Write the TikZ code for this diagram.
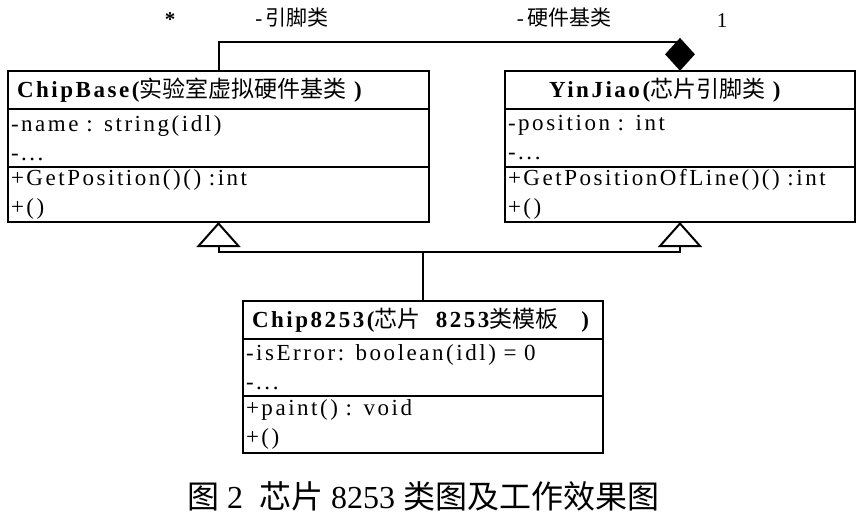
\documentclass[tikz,border=0pt]{standalone}
\usepackage{fontspec}
\setmainfont{Liberation Serif}
\newfontfamily\spaced[LetterSpace=11]{Liberation Serif}
\newfontfamily\cjk{Noto Sans CJK SC}
\usetikzlibrary{positioning,shapes.geometric,arrows.meta}

\tikzset{
	box/.style={draw,line width=2.4pt,outer sep=0pt,inner ysep=0pt},
	hdr/.style={box,minimum height=38pt,inner xsep=9pt,font=\spaced\fontsize{23}{27}\selectfont\bfseries},
	sect/.style={box,inner xsep=3pt,align=left,font=\spaced\fontsize{23}{29}\selectfont},
	link/.style={line width=2pt},
	gen/.style={link,-{Triangle[open,width=44pt,length=25pt]}},
	dia/.style={diamond,fill=black,inner sep=0pt,minimum width=30pt,minimum height=33pt},
	lbl/.style={font=\fontsize{21}{24}\selectfont}
}

\begin{document}
\begin{tikzpicture}[x=1pt,y=-1pt]
		\useasboundingbox[fill=white] (0,0) rectangle (864,520);
		\node[hdr,text width=403pt,align=left,anchor=north west] (cb) at (8,71) {ChipBase({\cjk\mdseries 实验室虚拟硬件基类} )};
		\node[sect,text width=415pt,minimum height=58pt,below=0pt of cb] (cbattr) {-name : string(idl)\\-...};
		\node[sect,text width=415pt,minimum height=55pt,below=0pt of cbattr] (cbops) {+GetPosition()() :int\\+()};
		\node[hdr,text width=332pt,align=left,anchor=north west] (yj) at (505,71) {\hspace*{35pt}YinJiao({\cjk\mdseries 芯片引脚类} )};
		\node[sect,text width=344pt,minimum height=58pt,below=0pt of yj] (yjattr) {-position : int\\-...};
		\node[sect,text width=344pt,minimum height=55pt,below=0pt of yjattr] (yjops) {+GetPositionOfLine()() :int\\+()};
		\node[hdr,text width=342pt,align=left,anchor=north west] (ch) at (243,301) {Chip8253({\cjk\mdseries 芯片}\ \ 8253{\cjk\mdseries 类模板}\ \ \ )};
		\node[sect,text width=354pt,minimum height=57pt,below=0pt of ch] (chattr) {-isError: boolean(idl) = 0\\-...};
		\node[sect,text width=354pt,minimum height=57pt,below=0pt of chattr] (chops) {+paint() : void\\+()};
		\node[dia,anchor=south] (yjdia) at (yj.north) {};
		\draw[link] (cb.north) |- ([yshift=-4pt]yjdia.north);
		\coordinate (bus) at ([yshift=-30pt]cbops.south);
		\draw[gen] (ch.north) |- (bus) -- (cbops.south);
		\draw[gen] (ch.north) |- (bus -| yjops.south) -- (yjops.south);
		\node[lbl] (star) at (170,20) {\textbf{*}};
		\node[lbl] (cbrole) at (292,18) {-\,{\cjk 引脚类}};
		\node[lbl] (yjrole) at (564,18) {-\,{\cjk 硬件基类}};
		\node[lbl] (one) at (722,21) {1};
		\node[font=\fontsize{32}{36}\selectfont] (cap) at (423,496) {{\cjk 图} 2\ \ {\cjk 芯片} 8253 {\cjk 类图及工作效果图}};
	\end{tikzpicture}
\end{document}
